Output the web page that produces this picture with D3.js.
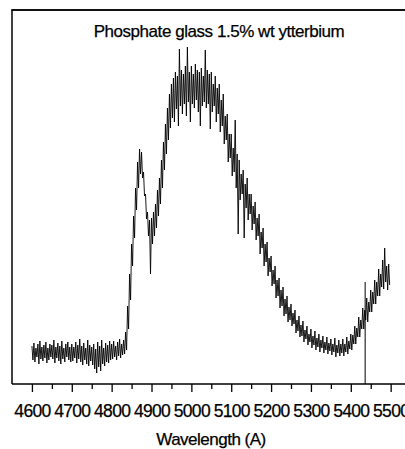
<!DOCTYPE html>
<html>

<head>
    <meta charset="utf-8">
    <title>Phosphate glass spectrum</title>
    <script src="https://d3js.org/d3.v7.min.js"></script>
</head>
<style>
    body {
        margin: 0;
        background: #fff;
    }

    svg {
        display: block;
    }

    svg text {
        font-family: "Liberation Sans", Arial, sans-serif;
        fill: #000;
        stroke: #000;
        stroke-width: 0.25px;
    }

    .line {
        fill: none;
        stroke: #000;
        stroke-width: 0.9px;
    }
</style>

<body>
    <svg id="chart"></svg>
    <script>
        // Noisy spectrum: upper and lower edge of the trace every 5 A
        var wavelengths = d3.range(4600, 5500, 5);
        var upper = [
            38, 41, 36, 40, 43, 37, 39, 42, 36, 40,
            39, 44, 37, 41, 38, 43, 36, 40, 42, 37,
            40, 37, 42, 39, 45, 38, 41, 36, 44, 39,
            37, 40, 35, 42, 38, 44, 36, 41, 39, 43,
            40, 43, 38, 42, 45, 40, 44, 52, 78, 110,
            140, 168, 196, 222, 235, 232, 212, 190, 172, 164,
            166, 172, 180, 194, 206, 224, 242, 260, 276, 290,
            300, 306, 312, 308, 335, 314, 310, 318, 337, 312,
            318, 310, 320, 314, 312, 316, 308, 334, 314, 310,
            312, 300, 308, 296, 300, 284, 290, 268, 270, 250,
            250, 236, 264, 230, 224, 210, 214, 200, 206, 190,
            190, 178, 182, 166, 170, 152, 156, 140, 142, 126,
            128, 114, 118, 104, 106, 94, 97, 85, 88, 77,
            80, 71, 74, 64, 68, 59, 63, 54, 58, 50,
            55, 48, 53, 46, 50, 44, 48, 42, 47, 41,
            45, 40, 46, 39, 44, 40, 45, 40, 47, 43,
            50, 49, 58, 56, 67, 64, 76, 74, 86, 82,
            94, 92, 104, 102, 115, 110, 124, 136, 118, 120
        ];
        var lower = [
            24, 22, 27, 20, 25, 23, 26, 21, 24, 27,
            25, 21, 26, 23, 20, 25, 22, 27, 24, 22,
            23, 26, 21, 25, 22, 19, 24, 20, 18, 23,
            19, 15, 11, 17, 13, 20, 18, 22, 21, 24,
            25, 27, 24, 28, 26, 29, 30, 34, 55, 84,
            118, 146, 174, 196, 210, 206, 188, 165, 148, 110,
            140, 148, 156, 168, 180, 196, 214, 230, 244, 256,
            266, 262, 275, 258, 278, 270, 280, 268, 282, 262,
            280, 276, 284, 272, 258, 278, 282, 276, 280, 255,
            272, 278, 262, 270, 252, 258, 240, 244, 222, 226,
            208, 212, 196, 150, 184, 190, 146, 176, 164, 170,
            154, 160, 144, 148, 130, 136, 118, 122, 108, 112,
            98, 100, 86, 88, 76, 78, 68, 70, 62, 64,
            58, 60, 51, 53, 47, 48, 42, 45, 39, 42,
            36, 39, 34, 37, 32, 36, 31, 34, 30, 33,
            29, 32, 27, 31, 28, 31, 28, 32, 30, 35,
            34, 40, 40, 47, 47, 55, 55, 64, 62, 72,
            72, 80, 80, 88, 88, 97, 95, 102, 94, 99
        ];

        // single glitch that runs down to the axis
        var spikeAt = [5436];
        var spikeLow = [0];
        var spikeHigh = [102];

        var majorTicks = [4600, 4700, 4800, 4900, 5000, 5100, 5200, 5300, 5400, 5500];
        var minorTicks = [4650, 4750, 4850, 4950, 5050, 5150, 5250, 5350, 5450];

        var width = 405,
            height = 449;
        var plotLeft = 12,
            plotTop = 10,
            plotBottom = 384;

        var svg = d3.select("#chart")
            .attr("width", width)
            .attr("height", height);

        var x = d3.scaleLinear()
            .domain([4550, 5536])
            .range([plotLeft, width]);

        var y = d3.scaleLinear()
            .domain([0, 374])
            .range([plotBottom, plotTop]);

        // frame: top edge and left edge
        svg.append("rect")
            .attr("x", plotLeft - 0.75)
            .attr("y", plotTop - 1)
            .attr("width", width - plotLeft + 1)
            .attr("height", 2)
            .attr("fill", "#111");

        svg.append("line")
            .attr("x1", plotLeft).attr("x2", plotLeft)
            .attr("y1", plotTop).attr("y2", plotBottom)
            .attr("stroke", "#000").attr("stroke-width", 1.5);

        // X axis
        var xAxis = svg.append("g")
            .attr("transform", "translate(0," + plotBottom + ")")
            .call(d3.axisBottom(x)
                .tickValues(majorTicks)
                .tickFormat(d3.format("d"))
                .tickSize(8)
                .tickPadding(13));

        xAxis.select(".domain").remove();
        xAxis.selectAll(".tick line").attr("stroke-width", 1.3);
        xAxis.selectAll("text")
            .style("font-size", "17.5px")
            .style("letter-spacing", "-0.7px")
            .style("font-family", "'Liberation Sans', Arial, sans-serif");

        svg.append("g")
            .attr("transform", "translate(0," + plotBottom + ")")
            .call(d3.axisBottom(x).tickValues(minorTicks).tickFormat("").tickSize(5))
            .call(function(g) { g.select(".domain").remove(); })
            .selectAll(".tick line").attr("stroke-width", 1.3);

        svg.append("line")
            .attr("x1", plotLeft).attr("x2", width)
            .attr("y1", plotBottom).attr("y2", plotBottom)
            .attr("stroke", "#000").attr("stroke-width", 1.5);

        // spectrum: the trace jumps between its upper and lower edge, half a step apart
        var pts = [];
        wavelengths.forEach(function(w, i) {
            pts.push([w, upper[i]]);
            pts.push([w + 2.5, lower[i]]);
        });

        var line = d3.line()
            .x(function(d) { return x(d[0]); })
            .y(function(d) { return y(d[1]); });

        svg.append("path")
            .datum(pts)
            .attr("class", "line")
            .attr("d", line);

        svg.selectAll(".spike")
            .data(spikeAt)
            .enter()
            .append("line")
            .attr("class", "spike")
            .attr("x1", function(d) { return x(d); })
            .attr("x2", function(d) { return x(d); })
            .attr("y1", function(d, i) { return y(spikeLow[i]); })
            .attr("y2", function(d, i) { return y(spikeHigh[i]); })
            .attr("stroke", "#000")
            .attr("stroke-width", 1);

        // title and axis label
        svg.append("text")
            .attr("x", 219)
            .attr("y", 37)
            .attr("text-anchor", "middle")
            .style("font-size", "17px")
            .style("letter-spacing", "-0.45px")
            .text("Phosphate glass 1.5% wt ytterbium");

        svg.append("text")
            .attr("x", 211)
            .attr("y", 445)
            .attr("text-anchor", "middle")
            .style("font-size", "17px")
            .style("letter-spacing", "-0.5px")
            .text("Wavelength (A)");
    </script>
</body>

</html>
